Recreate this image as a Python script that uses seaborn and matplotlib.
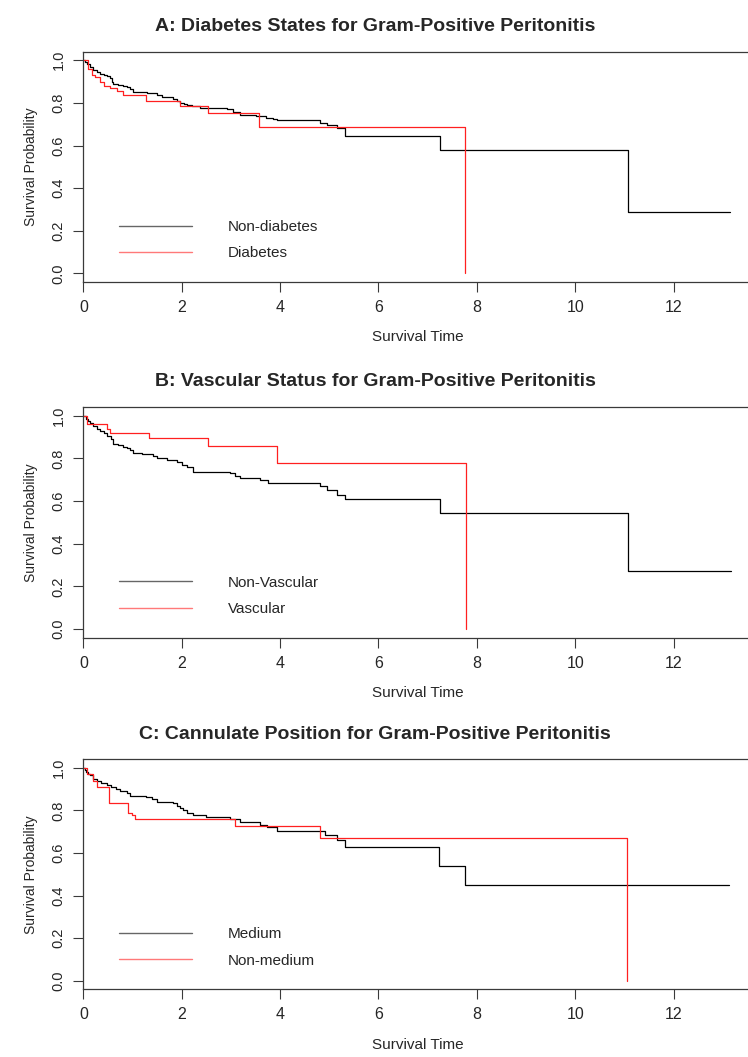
import numpy as np
import pandas as pd
import matplotlib.pyplot as plt
import seaborn as sns

sns.set_theme(style="white")
plt.rcParams['font.family'] = ['Liberation Sans', 'DejaVu Sans']

# A: diabetes states (survival curves)
a_non_t = [0, 0.03, 0.07, 0.13, 0.20, 0.27, 0.34, 0.42, 0.48, 0.54, 0.58, 0.61, 0.70, 0.81, 0.88,
           0.95, 1.01, 1.30, 1.49, 1.60, 1.83, 1.90, 1.96, 2.05, 2.10, 2.20, 2.37, 2.91,
           3.05, 3.18, 3.50, 3.72, 3.85, 3.93, 4.81, 4.95, 5.15, 5.32, 7.25, 11.07, 13.15]
a_non_s = [1.0, 0.99, 0.98, 0.966, 0.955, 0.945, 0.937, 0.93, 0.925, 0.915, 0.90, 0.89, 0.885, 0.88, 0.873,
           0.865, 0.85, 0.845, 0.836, 0.828, 0.82, 0.81, 0.80, 0.795, 0.79, 0.785, 0.776, 0.77,
           0.757, 0.745, 0.74, 0.73, 0.725, 0.718, 0.705, 0.695, 0.684, 0.643, 0.58, 0.288, 0.288]
a_dia_t = [0, 0.10, 0.17, 0.23, 0.34, 0.41, 0.54, 0.68, 0.81, 1.28, 1.96, 2.54, 3.56, 7.76]
a_dia_s = [1.0, 0.96, 0.93, 0.92, 0.90, 0.88, 0.87, 0.855, 0.835, 0.81, 0.785, 0.753, 0.688, 0.0]

# B: vascular status
b_non_t = [0, 0.05, 0.09, 0.13, 0.20, 0.27, 0.34, 0.41, 0.47, 0.55, 0.61, 0.70, 0.81, 0.88, 0.95,
           1.01, 1.20, 1.42, 1.49, 1.70, 1.90, 2.0, 2.10, 2.23, 2.98, 3.08, 3.18, 3.59, 3.76,
           4.81, 4.95, 5.15, 5.32, 7.26, 11.08, 13.17]
b_non_s = [1.0, 0.985, 0.975, 0.965, 0.95, 0.94, 0.928, 0.918, 0.905, 0.89, 0.87, 0.862, 0.855, 0.848, 0.84,
           0.824, 0.82, 0.813, 0.80, 0.795, 0.785, 0.77, 0.76, 0.738, 0.73, 0.72, 0.707, 0.70, 0.687,
           0.67, 0.652, 0.63, 0.608, 0.546, 0.273, 0.273]
b_vas_t = [0, 0.08, 0.48, 0.54, 1.33, 2.54, 3.93, 7.77]
b_vas_s = [1.0, 0.96, 0.936, 0.92, 0.897, 0.86, 0.777, 0.0]

# C: cannulate position
c_med_t = [0, 0.03, 0.06, 0.10, 0.13, 0.20, 0.27, 0.35, 0.47, 0.55, 0.67, 0.75, 0.88, 0.95, 1.28, 1.40,
           1.49, 1.83, 1.90, 1.96, 2.03, 2.10, 2.23, 2.5, 2.98, 3.18, 3.59, 3.73, 3.93,
           4.91, 5.15, 5.32, 7.24, 7.75, 13.13]
c_med_s = [1.0, 0.99, 0.98, 0.972, 0.965, 0.95, 0.94, 0.93, 0.92, 0.91, 0.90, 0.89, 0.88, 0.87, 0.865, 0.855,
           0.84, 0.833, 0.82, 0.81, 0.80, 0.79, 0.778, 0.767, 0.758, 0.747, 0.73, 0.72, 0.705,
           0.684, 0.66, 0.63, 0.539, 0.448, 0.448]
c_non_t = [0, 0.08, 0.20, 0.28, 0.52, 0.91, 0.98, 1.05, 3.08, 4.81, 11.05]
c_non_s = [1.0, 0.97, 0.94, 0.91, 0.835, 0.79, 0.778, 0.762, 0.728, 0.673, 0.0]

titles = ["A: Diabetes States for Gram-Positive Peritonitis",
          "B: Vascular Status for Gram-Positive Peritonitis",
          "C: Cannulate Position for Gram-Positive Peritonitis"]
groups = [("Non-diabetes", "Diabetes"), ("Non-Vascular", "Vascular"), ("Medium", "Non-medium")]
curves = [((a_non_t, a_non_s), (a_dia_t, a_dia_s)),
          ((b_non_t, b_non_s), (b_vas_t, b_vas_s)),
          ((c_med_t, c_med_s), (c_non_t, c_non_s))]

fig = plt.figure(figsize=(7.48, 10.57), dpi=100)
# axes boxes in figure fractions, right edge runs off the image like the original
boxes = [[0.1116, 0.7332, 0.894, 0.2179],
         [0.1116, 0.3967, 0.894, 0.2180],
         [0.1116, 0.0640, 0.894, 0.2176]]
edge = '#3a3a3a'

for box, title, labs, cv in zip(boxes, titles, groups, curves):
    ax = fig.add_axes(box)
    rows = []
    for lab, (t, s) in zip(labs, cv):
        rows.append(pd.DataFrame({"time": t, "surv": s, "group": lab}))
    df = pd.concat(rows, ignore_index=True)
    sns.lineplot(data=df, x="time", y="surv", hue="group", hue_order=list(labs),
                 palette=["black", "#ff2020"], estimator=None, sort=False,
                 drawstyle="steps-post", linewidth=0.9, ax=ax)
    ax.set_xlim(0, 13.6)
    ax.set_ylim(-0.04, 1.04)
    ax.set_xticks([0, 2, 4, 6, 8, 10, 12])
    ax.set_yticks([0.0, 0.2, 0.4, 0.6, 0.8, 1.0])
    ax.set_yticklabels(["0.0", "0.2", "0.4", "0.6", "0.8", "1.0"], rotation=90, va="center")
    ax.tick_params(axis="both", direction="out", length=7, width=0.8, color=edge,
                   labelsize=10.5, pad=6, left=True, bottom=True)
    ax.tick_params(axis="x", labelsize=11.5)
    for sp in ax.spines.values():
        sp.set_color(edge)
        sp.set_linewidth(0.9)
    ax.set_xlabel("Survival Time", fontsize=11, labelpad=11)
    ax.set_ylabel("Survival Probability", fontsize=10, labelpad=10)
    ax.set_title(title, fontsize=14, fontweight="bold", x=0.436, pad=15)
    leg = ax.legend(loc="center left", bbox_to_anchor=(0.053, 0.182), frameon=False,
                    fontsize=11, handlelength=4.8, handletextpad=2.35, labelspacing=0.8,
                    borderpad=0, borderaxespad=0)
    for h in leg.get_lines():
        h.set_linewidth(1.0)
        h.set_alpha(0.6)

fig.savefig("out.png", dpi=100)
